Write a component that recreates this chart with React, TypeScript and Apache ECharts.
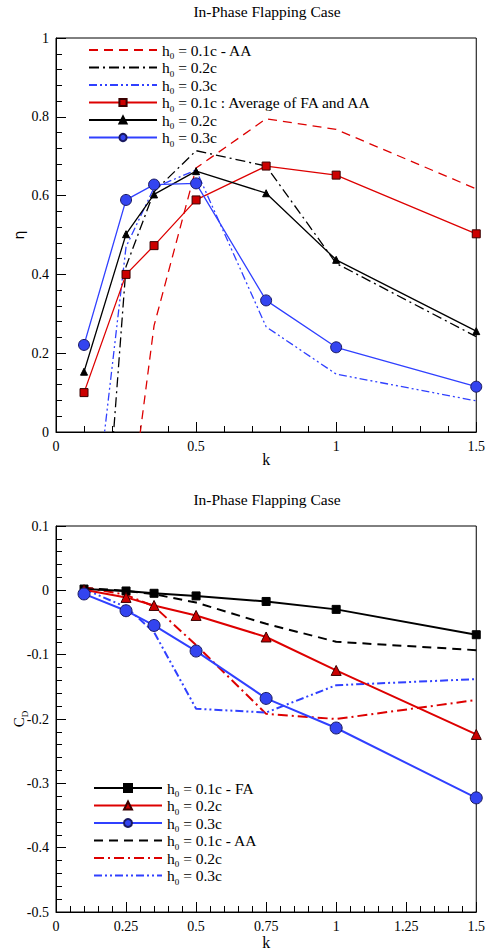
import { useEffect, useRef } from "react";
import * as echarts from "echarts";

// ---------- data ----------
const kValues = [0.1, 0.25, 0.35, 0.5, 0.75, 1, 1.5];

// Top chart: efficiency eta
const etaAA01 = [-1.1, -0.28, 0.27, 0.67, 0.795, 0.768, 0.617];
const etaAA02 = [-1.0, 0.42, 0.61, 0.714, 0.675, 0.428, 0.242];
const etaAA03 = [-0.45, 0.47, 0.62, 0.665, 0.267, 0.147, 0.079];
const etaAvg01 = [0.1, 0.4, 0.473, 0.589, 0.675, 0.652, 0.503];
const eta02 = [0.153, 0.502, 0.603, 0.662, 0.606, 0.437, 0.256];
const eta03 = [0.221, 0.589, 0.628, 0.631, 0.334, 0.215, 0.115];

// Bottom chart: drag coefficient C_D
const cdFA01 = [0.002, -0.001, -0.0046, -0.0087, -0.0173, -0.0296, -0.069];
const cdFA02 = [0.001, -0.011, -0.0235, -0.039, -0.0725, -0.1245, -0.224];
const cdFA03 = [-0.0056, -0.0317, -0.0546, -0.0944, -0.168, -0.214, -0.3226];
const cdAA01 = [0.004, -0.001, -0.006, -0.019, -0.052, -0.08, -0.093];
const cdAA02 = [0.005, -0.007, -0.025, -0.085, -0.192, -0.2, -0.1705];
const cdAA03 = [0.002, -0.026, -0.065, -0.184, -0.19, -0.1475, -0.138];

const topTicksX = [0, 0.5, 1, 1.5];
const topTicksY = [0, 0.2, 0.4, 0.6, 0.8, 1];
const botTicksX = [0, 0.25, 0.5, 0.75, 1, 1.25, 1.5];
const botTicksY = [-0.5, -0.4, -0.3, -0.2, -0.1, 0, 0.1];

const titleText = "In-Phase Flapping Case";

const legendLabels: Record<string, string> = {
  t_aa01: "h{sub|0} = 0.1c - AA",
  t_aa02: "h{sub|0} = 0.2c",
  t_aa03: "h{sub|0} = 0.3c",
  t_avg01: "h{sub|0} = 0.1c : Average of FA and AA",
  t_fa02: "h{sub|0} = 0.2c",
  t_fa03: "h{sub|0} = 0.3c",
  b_fa01: "h{sub|0} = 0.1c - FA",
  b_fa02: "h{sub|0} = 0.2c",
  b_fa03: "h{sub|0} = 0.3c",
  b_aa01: "h{sub|0} = 0.1c - AA",
  b_aa02: "h{sub|0} = 0.2c",
  b_aa03: "h{sub|0} = 0.3c",
};

// ---------- styles ----------
const SERIF = "'Liberation Serif', 'Times New Roman', Times, serif";
const RED = "#dd0000";
const BLUE = "#3040ff";
const BLACK = "#000000";
const DASH = [9, 6];
const DASHDOT = [10, 4, 2, 4];
const DASHDOTDOT = [8, 3, 2, 3, 2, 3];

const pairs = (ys: number[]) => kValues.map((k, i) => [k, ys[i]]);
const fmt = (v: number) => String(+v.toFixed(2));

function axisCommon(min: number, max: number, interval: number, ticks: number[]) {
  return {
    type: "value" as const,
    min,
    max,
    interval,
    nameMoveOverlap: false,
    axisLine: { show: true, onZero: false, lineStyle: { color: BLACK, width: 1 } },
    axisTick: { show: true, inside: true, length: 10, lineStyle: { color: BLACK, width: 1 } },
    minorTick: { show: true, splitNumber: 5, length: 6, lineStyle: { color: BLACK, width: 1 } },
    splitLine: { show: false },
    minorSplitLine: { show: false },
    axisLabel: {
      color: BLACK,
      fontFamily: SERIF,
      fontSize: 14,
      margin: 7,
      formatter: (v: number) => {
        const hit = ticks.find((t) => Math.abs(t - v) < 1e-6);
        return hit === undefined ? "" : fmt(hit);
      },
    },
  };
}

function lineSeries(
  name: string,
  axis: number,
  ys: number[],
  color: string,
  width: number,
  type: any,
  symbol: string,
  symbolSize: number,
  fill: string,
  border: string,
  z: number
) {
  return {
    name,
    type: "line" as const,
    xAxisIndex: axis,
    yAxisIndex: axis,
    data: pairs(ys),
    symbol,
    symbolSize,
    showSymbol: symbol !== "none",
    clip: true,
    z,
    lineStyle: { color, width, type },
    itemStyle: { color: fill, borderColor: border, borderWidth: 1, opacity: 1 },
    emphasis: { disabled: true },
  };
}

const legendText = {
  color: BLACK,
  fontFamily: SERIF,
  fontSize: 15.5,
  lineHeight: 15,
  rich: {
    sub: {
      fontFamily: SERIF,
      fontSize: 9,
      color: BLACK,
      verticalAlign: "bottom" as const,
      padding: [0, 0, -3, 0],
    },
  },
};

const noMarker = { itemStyle: { color: "rgba(0,0,0,0)", borderWidth: 0, opacity: 0 } };

const option: any = {
  animation: false,
  backgroundColor: "#ffffff",
  textStyle: { fontFamily: SERIF },
  title: [
    {
      text: titleText,
      left: 267,
      top: 3,
      padding: 0,
      textAlign: "center",
      textStyle: { fontFamily: SERIF, fontSize: 15.5, fontWeight: "normal", color: BLACK },
    },
    {
      text: titleText,
      left: 267,
      top: 491,
      padding: 0,
      textAlign: "center",
      textStyle: { fontFamily: SERIF, fontSize: 15.5, fontWeight: "normal", color: BLACK },
    },
  ],
  grid: [
    { left: 56, top: 38, width: 422, height: 394, show: true, borderColor: BLACK, borderWidth: 1, backgroundColor: "transparent" },
    { left: 56, top: 526, width: 422, height: 392, show: true, borderColor: BLACK, borderWidth: 1, backgroundColor: "transparent" },
  ],
  xAxis: [
    {
      ...axisCommon(0, 1.5, 0.5, topTicksX),
      gridIndex: 0,
      name: "k",
      nameLocation: "middle",
      nameGap: 19,
      nameTextStyle: { fontFamily: SERIF, fontSize: 16, color: BLACK },
    },
    {
      ...axisCommon(0, 1.5, 0.25, botTicksX),
      gridIndex: 1,
      name: "k",
      nameLocation: "middle",
      nameGap: 22,
      nameTextStyle: { fontFamily: SERIF, fontSize: 16, color: BLACK },
    },
  ],
  yAxis: [
    {
      ...axisCommon(0, 1, 0.2, topTicksY),
      gridIndex: 0,
      name: "η",
      nameLocation: "middle",
      nameGap: 30,
      nameRotate: 90,
      nameTextStyle: { fontFamily: "DejaVu Sans", fontSize: 14, color: BLACK },
    },
    {
      ...axisCommon(-0.5, 0.1, 0.1, botTicksY),
      gridIndex: 1,
      name: "C{sub|D}",
      nameLocation: "middle",
      nameGap: 30,
      nameRotate: 90,
      nameTextStyle: {
        fontFamily: SERIF,
        fontSize: 15,
        color: BLACK,
        rich: { sub: { fontFamily: SERIF, fontSize: 9, color: BLACK, verticalAlign: "bottom", padding: [0, 0, -3, 0] } },
      },
    },
  ],
  legend: [
    {
      orient: "vertical",
      left: 83,
      top: 37,
      itemWidth: 68,
      itemHeight: 9,
      itemGap: -1,
      data: [
        { name: "t_aa01", ...noMarker },
        { name: "t_aa02", ...noMarker },
        { name: "t_aa03", ...noMarker },
        "t_avg01",
        "t_fa02",
        "t_fa03",
      ],
      formatter: (n: string) => legendLabels[n],
      textStyle: legendText,
      selectedMode: false,
    },
    {
      orient: "vertical",
      left: 88,
      top: 775,
      itemWidth: 68,
      itemHeight: 10,
      itemGap: -1,
      data: [
        "b_fa01",
        "b_fa02",
        "b_fa03",
        { name: "b_aa01", ...noMarker },
        { name: "b_aa02", ...noMarker },
        { name: "b_aa03", ...noMarker },
      ],
      formatter: (n: string) => legendLabels[n],
      textStyle: legendText,
      selectedMode: false,
    },
  ],
  series: [
    lineSeries("t_aa01", 0, etaAA01, RED, 1.3, DASH, "none", 0, RED, RED, 2),
    lineSeries("t_aa02", 0, etaAA02, BLACK, 1.3, DASHDOT, "none", 0, BLACK, BLACK, 2),
    lineSeries("t_aa03", 0, etaAA03, BLUE, 1.3, DASHDOTDOT, "none", 0, BLUE, BLUE, 2),
    lineSeries("t_avg01", 0, etaAvg01, RED, 1.3, "solid", "rect", 8, "#cc0000", "#3a0000", 3),
    lineSeries("t_fa02", 0, eta02, BLACK, 1.3, "solid", "triangle", 7, BLACK, BLACK, 3),
    lineSeries("t_fa03", 0, eta03, BLUE, 1.3, "solid", "circle", 11, "#3344f0", "#1a1a60", 3),

    lineSeries("b_fa01", 1, cdFA01, BLACK, 2, "solid", "rect", 8, BLACK, BLACK, 3),
    lineSeries("b_fa02", 1, cdFA02, RED, 2, "solid", "triangle", 10, "#cc0000", "#3a0000", 3),
    lineSeries("b_fa03", 1, cdFA03, BLUE, 2, "solid", "circle", 12, "#3344f0", "#1a1a60", 3),
    lineSeries("b_aa01", 1, cdAA01, BLACK, 2, DASH, "none", 0, BLACK, BLACK, 2),
    lineSeries("b_aa02", 1, cdAA02, RED, 2, DASHDOT, "none", 0, RED, RED, 2),
    lineSeries("b_aa03", 1, cdAA03, BLUE, 2, DASHDOTDOT, "none", 0, BLUE, BLUE, 2),
  ],
};

export default function App() {
  const ref = useRef<HTMLDivElement>(null);
  useEffect(() => {
    if (!ref.current) return;
    const chart = echarts.init(ref.current, null, { renderer: "svg" });
    chart.setOption(option);
    return () => chart.dispose();
  }, []);
  return (
    <div
      ref={ref}
      style={{ position: "absolute", left: 0, top: 0, width: 488, height: 951, background: "#fff" }}
    />
  );
}
